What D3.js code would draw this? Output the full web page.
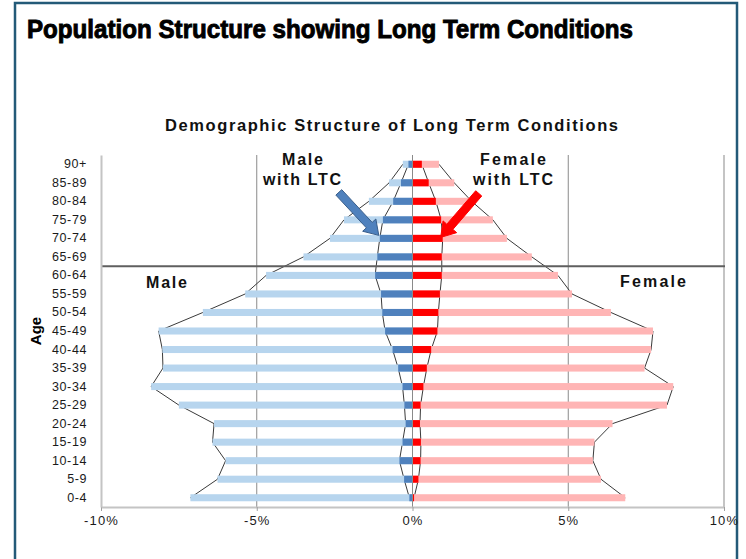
<!DOCTYPE html>
<html>
<head>
<meta charset="utf-8">
<script src="https://cdn.jsdelivr.net/npm/d3@7"></script>
<style>
  body { margin: 0; background: #fff; }
  svg text { font-family: "Liberation Sans", Arial, sans-serif; }
</style>
</head>
<body>
<svg id="chart" width="746" height="559"></svg>
<script>
// age bands, bottom to top
const ages = ['0-4', '5-9', '10-14', '15-19', '20-24', '25-29', '30-34', '35-39', '40-44',
              '45-49', '50-54', '55-59', '60-64', '65-69', '70-74', '75-79', '80-84', '85-89', '90+'];
// % of population
const maleTotal   = [7.13, 6.26, 6.0, 6.42, 6.37, 7.5, 8.39, 8.01, 8.03, 8.15, 6.73, 5.37, 4.7, 3.5, 2.65, 2.2, 1.4, 0.75, 0.31];
const maleLTC     = [0.1, 0.27, 0.42, 0.32, 0.22, 0.26, 0.32, 0.46, 0.64, 0.88, 0.97, 1.01, 1.2, 1.13, 1.05, 0.95, 0.62, 0.37, 0.13];
const femaleTotal = [6.83, 6.05, 5.79, 5.84, 6.42, 8.17, 8.37, 7.45, 7.66, 7.72, 6.37, 5.12, 4.67, 3.83, 3.03, 2.58, 1.9, 1.34, 0.85];
const femaleLTC   = [0.05, 0.19, 0.26, 0.27, 0.24, 0.26, 0.35, 0.46, 0.6, 0.8, 0.83, 0.88, 0.94, 0.94, 0.97, 0.92, 0.75, 0.52, 0.3];
const xTicks = [-10, -5, 0, 5, 10];
const retireBand = '65-69';   // grey line drawn under this band
const arrowBand = '70-74';

const svg = d3.select('#chart');
const plot = { left: 101, right: 724, top: 155, bottom: 507 };

const x = d3.scaleLinear().domain([-10, 10]).range([plot.left, plot.right]);
const y = d3.scaleBand().domain(ages.slice().reverse()).range([plot.top, plot.bottom]);
const barH = y.bandwidth() * 0.38;
const yc = a => y(a) + y.bandwidth() / 2;

// outer frame
svg.append('rect')
   .attr('x', 15).attr('y', 3)
   .attr('width', 722).attr('height', 600)
   .attr('fill', 'none')
   .attr('stroke', '#235a78')
   .attr('stroke-width', 2.5);

svg.append('text')
   .attr('x', 27).attr('y', 38)
   .attr('font-size', 25).attr('font-weight', 'bold')
   .attr('stroke', '#000').attr('stroke-width', 0.9)
   .attr('textLength', 606).attr('lengthAdjust', 'spacingAndGlyphs')
   .text('Population Structure showing Long Term Conditions');

svg.append('text')
   .attr('x', 165).attr('y', 131)
   .attr('font-size', 16.5).attr('font-weight', 'bold')
   .attr('fill', '#111')
   .attr('textLength', 453).attr('lengthAdjust', 'spacing')
   .text('Demographic Structure of Long Term Conditions');

// gridlines
svg.append('g').selectAll('line')
   .data(xTicks.filter(d => d > -10 && d < 10))
   .join('line')
     .attr('x1', d => x(d)).attr('x2', d => x(d))
     .attr('y1', plot.top).attr('y2', plot.bottom)
     .attr('stroke', '#8a8a8a').attr('stroke-width', 1);
svg.append('line')
   .attr('x1', x(10)).attr('x2', x(10))
   .attr('y1', plot.top).attr('y2', plot.bottom)
   .attr('stroke', '#c4c4c4').attr('stroke-width', 2);

// outlines
const lineM = d3.line().x(d => d[0]).y(d => d[1]);
function outline(vals, sign) {
  svg.append('path')
     .attr('d', lineM(vals.map((v, i) => [x(sign * v), yc(ages[i])])))
     .attr('fill', 'none')
     .attr('stroke', '#3a3a3a')
     .attr('stroke-width', 1);
}
outline(maleTotal, -1);
outline(maleLTC, -1);
outline(femaleTotal, 1);
outline(femaleLTC, 1);

// bars
function bars(vals, sign, color) {
  svg.append('g').selectAll('rect')
     .data(vals)
     .join('rect')
       .attr('x', d => sign < 0 ? x(-d) : x(0))
       .attr('width', d => Math.abs(x(d) - x(0)))
       .attr('y', (d, i) => yc(ages[i]) - barH / 2)
       .attr('height', barH)
       .attr('fill', color);
}
bars(maleTotal, -1, '#b7d5ee');
bars(femaleTotal, 1, '#ffb5b5');
bars(maleLTC, -1, '#4f81bd');
bars(femaleLTC, 1, '#ff0000');

// zero line over bars
svg.append('line')
   .attr('x1', x(0)).attr('x2', x(0))
   .attr('y1', plot.top).attr('y2', plot.bottom)
   .attr('stroke', '#8a8a8a').attr('stroke-width', 1);

// retirement line
svg.append('line')
   .attr('x1', plot.left).attr('x2', plot.right + 1)
   .attr('y1', y(retireBand) + y.bandwidth()).attr('y2', y(retireBand) + y.bandwidth())
   .attr('stroke', '#5f5f5f').attr('stroke-width', 2);

// axes
const xAxis = svg.append('g')
   .attr('transform', `translate(0,${plot.bottom})`)
   .call(d3.axisBottom(x).tickValues(xTicks).tickFormat(d => `${d}%`).tickSizeInner(4).tickSizeOuter(0).tickPadding(5));
xAxis.select('.domain').attr('stroke', '#c4c4c4').attr('stroke-width', 2);
xAxis.selectAll('.tick line').attr('stroke', '#a0a0a0');
xAxis.selectAll('text')
     .attr('font-size', 13).attr('fill', '#1a1a1a')
     .attr('letter-spacing', 1.2)
     .attr('font-family', '"Liberation Sans", Arial, sans-serif');

const yAxis = svg.append('g')
   .attr('transform', `translate(${plot.left},0)`)
   .call(d3.axisLeft(y).tickSize(0).tickPadding(14));
yAxis.select('.domain').attr('stroke', '#c4c4c4').attr('stroke-width', 2);
yAxis.selectAll('text')
     .attr('font-size', 12.5).attr('fill', '#1a1a1a')
     .attr('letter-spacing', 0.6)
     .attr('font-family', '"Liberation Sans", Arial, sans-serif');

svg.append('text')
   .attr('transform', `translate(41,${(plot.top + plot.bottom) / 2}) rotate(-90)`)
   .attr('text-anchor', 'middle')
   .attr('font-size', 15).attr('font-weight', 'bold')
   .text('Age');

// labels
function label(txt, x0, y0, w) {
  svg.append('text')
     .attr('x', x0).attr('y', y0)
     .attr('font-size', 16).attr('font-weight', 'bold')
     .attr('fill', '#111')
     .attr('textLength', w).attr('lengthAdjust', 'spacing')
     .text(txt);
}
label('Male', 146, 288, 41);
label('Female', 620, 287, 66);
label('Male', 282, 165, 41);
label('with LTC', 263, 185, 78);
label('Female', 480, 165, 66);
label('with LTC', 473, 185, 80);

// arrows pointing at the 70-74 LTC bars
function arrow(tip, tail, fill, stroke) {
  const dx = tip[0] - tail[0], dy = tip[1] - tail[1];
  const len = Math.hypot(dx, dy);
  const ux = dx / len, uy = dy / len, nx = -uy, ny = ux;
  const sw = 4, hw = 9, hl = 14;
  const bx = tip[0] - ux * hl, by = tip[1] - uy * hl;
  const pts = [
    [tail[0] + nx * sw, tail[1] + ny * sw],
    [bx + nx * sw, by + ny * sw],
    [bx + nx * hw, by + ny * hw],
    tip,
    [bx - nx * hw, by - ny * hw],
    [bx - nx * sw, by - ny * sw],
    [tail[0] - nx * sw, tail[1] - ny * sw]
  ];
  svg.append('polygon')
     .attr('points', pts.map(p => p.join(',')).join(' '))
     .attr('fill', fill)
     .attr('stroke', stroke)
     .attr('stroke-width', 1);
}
const ai = ages.indexOf(arrowBand);
const mTip = [x(-maleLTC[ai]) - 1, yc(arrowBand) - 3];
arrow(mTip, [mTip[0] - 40, mTip[1] - 43], '#4f81bd', '#385d8a');
const fTip = [x(femaleLTC[ai]) - 2, yc(arrowBand) - 1];
arrow(fTip, [fTip[0] + 38, fTip[1] - 44], '#ff0000', '#ff0000');
</script>
</body>
</html>
